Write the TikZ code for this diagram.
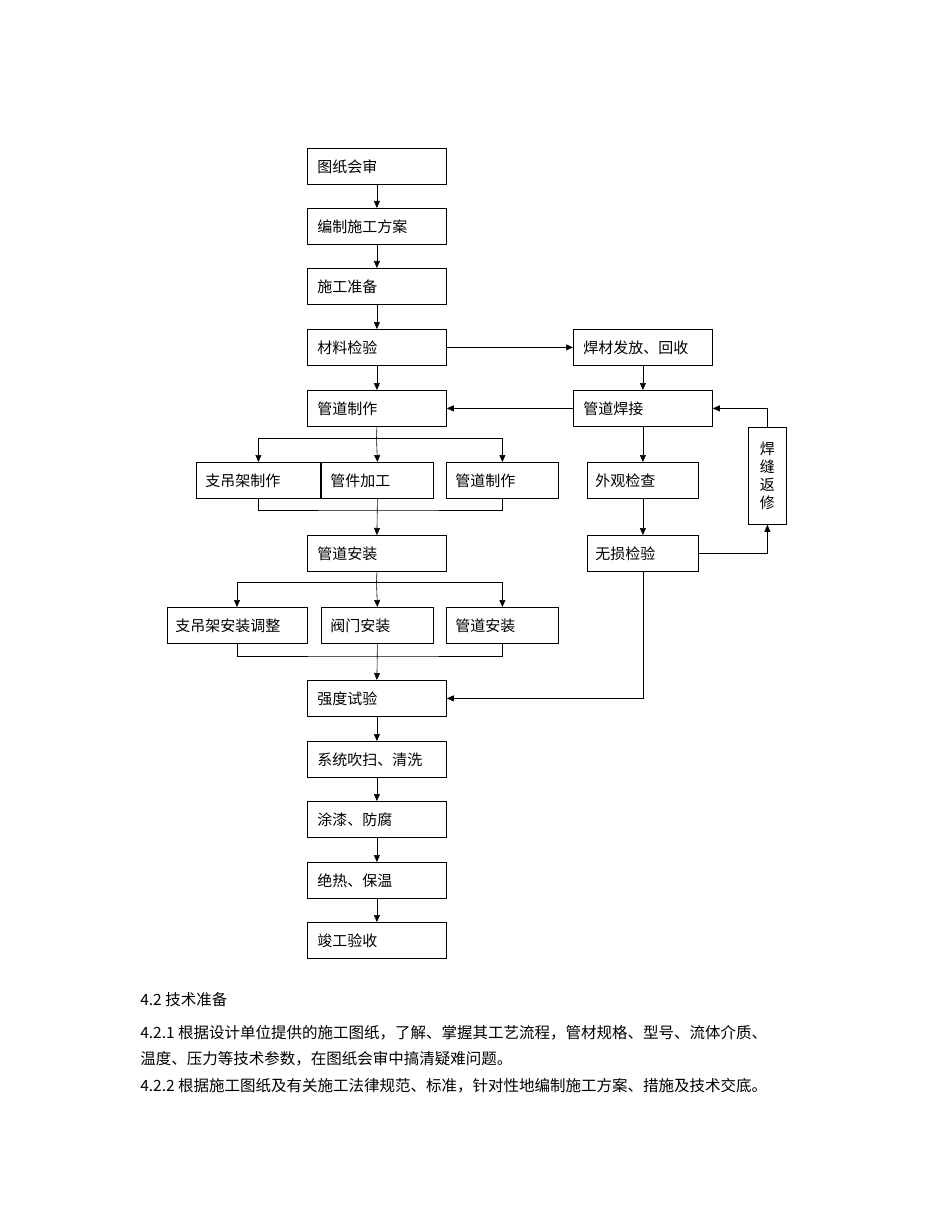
\documentclass[tikz,border=0pt]{standalone}
\usepackage{fontspec}
\setmainfont{Noto Sans CJK SC}
\usetikzlibrary{arrows.meta}
\begin{document}
\begin{tikzpicture}[x=1pt,y=-1pt,semithick,
  bx/.style={draw,thick,anchor=north west,inner sep=0pt,font=\fontsize{15}{18}\selectfont},
  ar/.style={-{Triangle[length=7pt,width=6pt]}}]
\useasboundingbox (0,0) rectangle (950,1230);
\node[bx,minimum width=139,minimum height=36,align=left,text width=119] (a1) at (307,148) {图纸会审};
\node[bx,minimum width=139,minimum height=36,text width=119] (a2) at (307,208) {编制施工方案};
\node[bx,minimum width=139,minimum height=36,text width=119] (a3) at (307,268) {施工准备};
\node[bx,minimum width=139,minimum height=36,text width=119] (a4) at (307,329) {材料检验};
\node[bx,minimum width=139,minimum height=36,text width=119] (a5) at (307,390) {管道制作};
\node[bx,minimum width=124,minimum height=36,text width=106] (b1) at (196,462) {支吊架制作};
\node[bx,minimum width=112,minimum height=36,text width=94] (b2) at (321,462) {管件加工};
\node[bx,minimum width=112,minimum height=36,text width=94] (b3) at (446,462) {管道制作};
\node[bx,minimum width=139,minimum height=36,text width=119] (a6) at (307,535) {管道安装};
\node[bx,minimum width=140,minimum height=36,text width=124] (c1) at (167,607) {支吊架安装调整};
\node[bx,minimum width=112,minimum height=36,text width=94] (c2) at (321,607) {阀门安装};
\node[bx,minimum width=112,minimum height=36,text width=94] (c3) at (446,607) {管道安装};
\node[bx,minimum width=139,minimum height=36,text width=119] (a7) at (307,680) {强度试验};
\node[bx,minimum width=139,minimum height=36,text width=119] (a8) at (307,741) {系统吹扫、清洗};
\node[bx,minimum width=139,minimum height=36,text width=119] (a9) at (307,801) {涂漆、防腐};
\node[bx,minimum width=139,minimum height=36,text width=119] (a10) at (307,862) {绝热、保温};
\node[bx,minimum width=139,minimum height=36,text width=119] (a11) at (307,922) {竣工验收};
\node[bx,minimum width=139,minimum height=36,text width=119] (r1) at (573,329) {焊材发放、回收};
\node[bx,minimum width=139,minimum height=36,text width=119] (r2) at (573,390) {管道焊接};
\node[bx,minimum width=111,minimum height=36,text width=95] (r3) at (587,462) {外观检查};
\node[bx,minimum width=111,minimum height=36,text width=95] (r4) at (587,535) {无损检验};
\node[bx,minimum width=38,minimum height=97,text width=16,align=center] (rx) at (748,427) {焊\\缝\\返\\修};
\foreach \u/\v in {a1/a2,a2/a3,a3/a4,a4/a5,a7/a8,a8/a9,a9/a10,a10/a11,r1/r2,r2/r3,r3/r4}
  \draw[ar] (\u.south) -- (\v.north);
\draw[ar] (a4.east) -- (r1.west);
\draw[ar] (r2.west) -- (a5.east);
\coordinate (j1) at (376.5,438);
\draw (a5.south) -- (j1);
\draw[ar] (j1) -| (b1.north);
\draw[ar] (j1) -| (b3.north);
\draw[ar] (j1) -- (b2.north);
\draw (b1.south) |- (376.5,510) -| (b3.south);
\draw[ar] (b2.south) -- (a6.north);
\coordinate (j2) at (376.5,582);
\draw (a6.south) -- (j2);
\draw[ar] (j2) -| (237,607);
\draw[ar] (j2) -| (c3.north);
\draw[ar] (j2) -- (c2.north);
\draw (237,643) |- (376.5,656) -| (c3.south);
\draw[ar] (c2.south) -- (a7.north);
\draw[ar] (r4.east) -| (rx.south);
\draw[ar] (rx.north) |- (r2.east);
\draw[ar] (r4.south) |- (a7.east);
\begin{scope}[every node/.style={anchor=base west,inner sep=0pt,font=\fontsize{15.5}{18}\selectfont}]
\node (t1) at (140,1005) {4.2 技术准备};
\node (t2) at (140,1038) {4.2.1 根据设计单位提供的施工图纸，了解、掌握其工艺流程，管材规格、型号、流体介质、};
\node (t3) at (140,1064) {温度、压力等技术参数，在图纸会审中搞清疑难问题。};
\node (t4) at (140,1091) {4.2.2 根据施工图纸及有关施工法律规范、标准，针对性地编制施工方案、措施及技术交底。};
\end{scope}
\end{tikzpicture}
\end{document}
